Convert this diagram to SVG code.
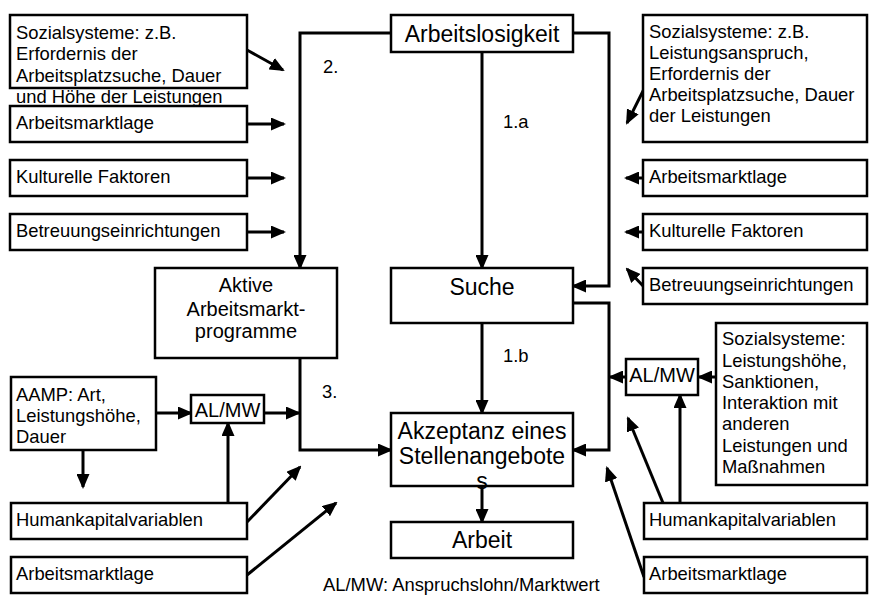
<svg xmlns="http://www.w3.org/2000/svg" width="870" height="596" viewBox="0 0 870 596">
<style>
rect.box{fill:#fff;stroke:#000;stroke-width:2.5}
text{font-family:"Liberation Sans",Arial,sans-serif;fill:#000}
.s{font-size:18.4px}
.m{font-size:20px}
.l{font-size:23px}
.c{text-anchor:middle}
.con line,.con polyline{fill:none;stroke:#000;stroke-width:3;marker-end:url(#ah)}
</style>
<defs>
<marker id="ah" viewBox="0 0 15 13" refX="13" refY="6.5" markerWidth="15" markerHeight="13" markerUnits="userSpaceOnUse" orient="auto">
<path d="M0,0 L15,6.5 L0,13 z" fill="#000"/>
</marker>
</defs>
<rect width="870" height="596" fill="#fff"/>

<g id="connectors" class="con">
<polyline points="391,33 300,33 300,268"/>
<line x1="482" y1="52" x2="482" y2="268"/>
<polyline points="573,33 609,33 609,286 573,286"/>
<polyline points="573,303 609,303 609,450 573,450"/>
<polyline points="300,358 300,450 391,450"/>
<line x1="482" y1="323" x2="482" y2="413"/>
<line x1="482" y1="486" x2="482" y2="522"/>
<line x1="247" y1="50" x2="283" y2="70"/>
<line x1="247" y1="124" x2="284" y2="124"/>
<line x1="247" y1="178" x2="284" y2="178"/>
<line x1="247" y1="232" x2="284" y2="232"/>
<line x1="645" y1="87" x2="627" y2="123"/>
<line x1="643" y1="178" x2="626" y2="178"/>
<line x1="643" y1="232" x2="626" y2="232"/>
<line x1="645" y1="288" x2="627" y2="269"/>
<line x1="156" y1="413" x2="191" y2="413"/>
<line x1="264" y1="413" x2="299" y2="413"/>
<line x1="83" y1="450" x2="83" y2="487"/>
<line x1="228" y1="503" x2="228" y2="423"/>
<line x1="247" y1="522" x2="300" y2="467"/>
<line x1="247" y1="575" x2="336" y2="503"/>
<line x1="626" y1="377" x2="610" y2="377"/>
<line x1="716" y1="377" x2="699" y2="377"/>
<line x1="680" y1="503" x2="680" y2="395"/>
<line x1="663" y1="503" x2="628" y2="418"/>
<line x1="644" y1="577" x2="607" y2="468"/>
</g>

<g id="arbeitslosigkeit"><rect class="box" x="391" y="15" width="182" height="37"/><text class="l c" x="482" y="42">Arbeitslosigkeit</text></g>
<g id="suche"><rect class="box" x="391" y="268" width="182" height="55"/><text class="l c" x="482" y="295">Suche</text></g>
<g id="akzeptanz"><rect class="box" x="391" y="413" width="182" height="73"/><text class="l c" x="482" y="439">Akzeptanz eines</text><text class="l c" x="482" y="464">Stellenangebote</text><text class="l c" x="482" y="489">s</text></g>
<g id="arbeit"><rect class="box" x="391" y="522" width="182" height="36"/><text class="l c" x="482" y="548">Arbeit</text></g>
<g id="aktive"><rect class="box" x="155" y="268" width="182" height="90"/><text class="m c" x="246" y="292">Aktive</text><text class="m c" x="246" y="315.5">Arbeitsmarkt-</text><text class="m c" x="246" y="338">programme</text></g>

<g id="sozial-links"><rect class="box" x="10" y="15" width="237" height="73"/><text class="s" x="16" y="38.5">Sozialsysteme: z.B.</text><text class="s" x="16" y="60">Erfordernis der</text><text class="s" x="16" y="81.5">Arbeitsplatzsuche, Dauer</text><text class="s" x="16" y="103">und Höhe der Leistungen</text></g>
<g id="arbeitsmarkt-links"><rect class="box" x="10" y="106" width="237" height="36"/><text class="s" x="16" y="129">Arbeitsmarktlage</text></g>
<g id="kultur-links"><rect class="box" x="10" y="160" width="237" height="36"/><text class="s" x="16" y="183">Kulturelle Faktoren</text></g>
<g id="betreuung-links"><rect class="box" x="10" y="214" width="237" height="36"/><text class="s" x="16" y="237">Betreuungseinrichtungen</text></g>

<g id="sozial-rechts"><rect class="box" x="643" y="15" width="224" height="127"/><text class="s" x="649" y="37.5">Sozialsysteme: z.B.</text><text class="s" x="649" y="58.7">Leistungsanspruch,</text><text class="s" x="649" y="80">Erfordernis der</text><text class="s" x="649" y="101">Arbeitsplatzsuche, Dauer</text><text class="s" x="649" y="122">der Leistungen</text></g>
<g id="arbeitsmarkt-rechts"><rect class="box" x="643" y="160" width="224" height="36"/><text class="s" x="649" y="183">Arbeitsmarktlage</text></g>
<g id="kultur-rechts"><rect class="box" x="643" y="214" width="224" height="36"/><text class="s" x="649" y="237">Kulturelle Faktoren</text></g>
<g id="betreuung-rechts"><rect class="box" x="643" y="268" width="224" height="36"/><text class="s" x="649" y="291">Betreuungseinrichtungen</text></g>

<g id="aamp"><rect class="box" x="11" y="377" width="145" height="73"/><text class="s" x="16" y="400.5">AAMP: Art,</text><text class="s" x="16" y="421.5">Leistungshöhe,</text><text class="s" x="16" y="442.5">Dauer</text></g>
<g id="almw-links"><rect class="box" x="191" y="395" width="73" height="28"/><text class="m c" x="227.5" y="417">AL/MW</text></g>
<g id="human-links"><rect class="box" x="11" y="503" width="236" height="36"/><text class="s" x="16" y="526">Humankapitalvariablen</text></g>
<g id="arbeitsmarkt-unten-links"><rect class="box" x="11" y="557" width="236" height="36"/><text class="s" x="16" y="580">Arbeitsmarktlage</text></g>

<g id="almw-rechts"><rect class="box" x="626" y="359" width="72" height="36"/><text class="m c" x="662" y="382">AL/MW</text></g>
<g id="sozial-unten-rechts"><rect class="box" x="716" y="323" width="151" height="162"/><text class="s" x="722" y="345">Sozialsysteme:</text><text class="s" x="722" y="366.5">Leistungshöhe,</text><text class="s" x="722" y="387.5">Sanktionen,</text><text class="s" x="722" y="409">Interaktion mit</text><text class="s" x="722" y="430">anderen</text><text class="s" x="722" y="451.5">Leistungen und</text><text class="s" x="722" y="473">Maßnahmen</text></g>
<g id="human-rechts"><rect class="box" x="644" y="503" width="223" height="36"/><text class="s" x="649" y="526">Humankapitalvariablen</text></g>
<g id="arbeitsmarkt-unten-rechts"><rect class="box" x="644" y="557" width="223" height="36"/><text class="s" x="649" y="580">Arbeitsmarktlage</text></g>

<g id="labels">
<text class="s" x="323" y="73">2.</text>
<text class="s" x="503" y="128">1.a</text>
<text class="s" x="503" y="362">1.b</text>
<text class="s" x="322" y="398">3.</text>
<text class="s" x="323" y="591">AL/MW: Anspruchslohn/Marktwert</text>
</g>
</svg>
